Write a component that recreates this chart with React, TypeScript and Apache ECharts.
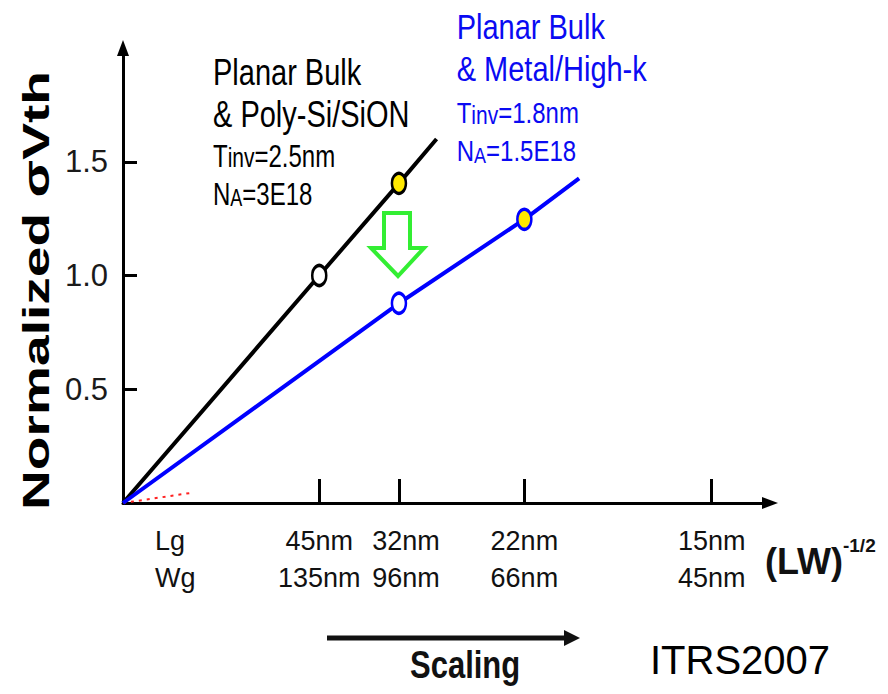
import React, { useEffect, useRef } from 'react';
import * as echarts from 'echarts';

const FONT = '"Liberation Sans", Arial, Helvetica, sans-serif';

// x axis: (LW)^-1/2 in um^-1, one entry per technology node
const NODE_LG = ['45nm', '32nm', '22nm', '15nm'];
const NODE_WG = ['135nm', '96nm', '66nm', '45nm'];
const NODE_X = [12.83, 18.04, 26.24, 38.49];
const HEADER_X = 3.43; // "Lg / Wg" row header
const Y_TICKS = [0.5, 1.0, 1.5];

// Planar Bulk & Poly-Si/SiON
const POLY_X = [0, 12.83, 18.04, 20.5];
const POLY_Y = [0, 1.0, 1.405, 1.6];
const POLY_MARK = ['none', 'open', 'filled', 'none'];
// Planar Bulk & Metal/High-k
const MHK_X = [0, 18.04, 26.24, 29.82];
const MHK_Y = [0, 0.878, 1.247, 1.427];
const MHK_MARK = ['none', 'open', 'filled', 'none'];
// red dotted reference near origin
const REF_X = [0, 4.5];
const REF_Y = [0, 0.045];

const BLACK = '#000000';
const BLUE = '#0000ff';
const BLUE_TEXT = '#0a0af2';
const YELLOW = '#ffe800';
const GREEN = '#33ee33';

function build(xs: number[], ys: number[], marks: string[], color: string) {
  return xs.map((x, i) => ({
    value: [x, ys[i]],
    symbol: marks[i] === 'none' ? 'none' : 'circle',
    itemStyle: {
      color: marks[i] === 'filled' ? YELLOW : '#ffffff',
      borderColor: color,
      borderWidth: 3,
    },
  }));
}

function textLine(x: number, y: number, text: string, size: number, color: string, sy: number, bold = false) {
  return {
    type: 'text',
    x,
    y,
    scaleY: sy,
    silent: true,
    style: {
      text,
      fill: color,
      fontSize: size,
      fontFamily: FONT,
      fontWeight: bold ? 'bold' : 'normal',
      align: 'left',
      verticalAlign: 'middle',
    },
  };
}

function richLine(x: number, y: number, big: string[], small: string, color: string, sy: number, smallSize: number) {
  return {
    type: 'text',
    x,
    y,
    scaleY: sy,
    silent: true,
    style: {
      text: `{a|${big[0]}}{b|${small}}{a|${big[1]}}`,
      fill: color,
      fontSize: 24,
      fontFamily: FONT,
      align: 'left',
      verticalAlign: 'middle',
      rich: {
        a: { fontSize: 24, fontFamily: FONT, fill: color, verticalAlign: 'bottom' },
        b: { fontSize: smallSize, fontFamily: FONT, fill: color, verticalAlign: 'bottom' },
      },
    },
  };
}

export default function App() {
  const ref = useRef<HTMLDivElement>(null);

  useEffect(() => {
    if (!ref.current) return;
    const chart = echarts.init(ref.current, undefined, { renderer: 'svg' });

    const option: any = {
      animation: false,
      backgroundColor: '#ffffff',
      grid: { left: 123, right: 118, top: 48, bottom: 191, outerBoundsMode: 'none' },
      xAxis: {
        type: 'value',
        min: 0,
        max: 42.3,
        splitLine: { show: false },
        name: '{a|(LW)}{b|-1/2}',
        nameLocation: 'end',
        nameGap: -5,
        nameTextStyle: {
          padding: [116, 0, 0, 0],
          rich: {
            a: { fontSize: 36, fontWeight: 'bold', fontFamily: FONT, color: '#111', lineHeight: 50 },
            b: { fontSize: 19, fontWeight: 'bold', fontFamily: FONT, color: '#111', verticalAlign: 'top' },
          },
        },
        axisLine: {
          show: true,
          symbol: ['none', 'triangle'],
          symbolSize: [12, 16],
          lineStyle: { color: BLACK, width: 3 },
        },
        axisTick: {
          show: true,
          inside: true,
          length: 24,
          customValues: NODE_X,
          lineStyle: { color: BLACK, width: 3 },
        },
        axisLabel: {
          show: true,
          customValues: [HEADER_X, ...NODE_X],
          margin: 19,
          fontSize: 27,
          lineHeight: 37,
          color: '#111',
          fontFamily: FONT,
          formatter: (v: number) => {
            if (Math.abs(v - HEADER_X) < 1e-6) return '{h|Lg}\n{h|Wg}';
            const i = NODE_X.findIndex((x) => Math.abs(x - v) < 1e-6);
            if (i === 1) return `{p|${NODE_LG[i]}}\n{p|${NODE_WG[i]}}`;
            return i >= 0 ? `${NODE_LG[i]}\n${NODE_WG[i]}` : '';
          },
          rich: {
            h: { width: 41, align: 'left', fontSize: 27, lineHeight: 37, color: '#111', fontFamily: FONT },
            p: { padding: [0, 0, 0, 14], fontSize: 27, lineHeight: 37, color: '#111', fontFamily: FONT },
          },
        },
      },
      yAxis: {
        type: 'value',
        min: 0,
        max: 2.0,
        interval: 0.5,
        splitLine: { show: false },
        axisLine: {
          show: true,
          symbol: ['none', 'triangle'],
          symbolSize: [12, 16],
          lineStyle: { color: BLACK, width: 3 },
        },
        axisTick: {
          show: true,
          inside: true,
          length: 14,
          customValues: Y_TICKS,
          lineStyle: { color: BLACK, width: 3 },
        },
        axisLabel: {
          show: true,
          customValues: Y_TICKS,
          margin: 15,
          fontSize: 31,
          color: '#1a1a1a',
          fontFamily: FONT,
          formatter: (v: number) => v.toFixed(1),
        },
      },
      series: [
        {
          type: 'line',
          name: 'ref',
          data: REF_X.map((x, i) => [x, REF_Y[i]]),
          showSymbol: false,
          symbol: 'none',
          lineStyle: { color: '#ff2020', width: 2, type: [3, 5] },
          silent: true,
          z: 1,
        },
        {
          type: 'line',
          name: 'Planar Bulk & Poly-Si/SiON',
          data: build(POLY_X, POLY_Y, POLY_MARK, BLACK),
          symbolSize: [14, 20],
          showSymbol: true,
          lineStyle: { color: BLACK, width: 4 },
          silent: true,
          z: 3,
        },
        {
          type: 'line',
          name: 'Planar Bulk & Metal/High-k',
          data: build(MHK_X, MHK_Y, MHK_MARK, BLUE),
          symbolSize: [14, 20],
          showSymbol: true,
          lineStyle: { color: BLUE, width: 4 },
          silent: true,
          z: 3,
        },
      ],
      graphic: [
        {
          type: 'text',
          x: 36,
          y: 290.5,
          rotation: Math.PI / 2,
          scaleX: 1.49,
          silent: true,
          style: {
            text: 'Normalized σVth',
            fill: BLACK,
            fontSize: 37,
            fontWeight: 'bold',
            fontFamily: FONT,
            align: 'center',
            verticalAlign: 'middle',
          },
        },
        textLine(213, 72, 'Planar Bulk', 29, BLACK, 1.28),
        textLine(213, 113.7, '& Poly-Si/SiON', 29, BLACK, 1.28),
        richLine(213, 156, ['T', '=2.5nm'], 'inv', BLACK, 1.28, 21),
        richLine(213, 194.2, ['N', '=3E18'], 'A', BLACK, 1.28, 18),
        textLine(456.7, 26.9, 'Planar Bulk', 29, BLUE_TEXT, 1.22),
        textLine(456.7, 69.3, '& Metal/High-k', 29, BLUE_TEXT, 1.22),
        richLine(456.7, 113, ['T', '=1.8nm'], 'inv', BLUE_TEXT, 1.22, 21),
        richLine(456.7, 151.5, ['N', '=1.5E18'], 'A', BLUE_TEXT, 1.22, 18),
        {
          type: 'polygon',
          silent: true,
          z: 10,
          shape: {
            points: [
              [384, 213],
              [410, 213],
              [410, 248],
              [424, 248],
              [398, 276],
              [371, 248],
              [384, 248],
            ],
          },
          style: { fill: 'none', stroke: GREEN, lineWidth: 4, lineJoin: 'miter' },
        },
        {
          type: 'line',
          silent: true,
          shape: { x1: 327, y1: 638, x2: 568, y2: 638 },
          style: { stroke: '#111', lineWidth: 5 },
        },
        {
          type: 'polygon',
          silent: true,
          shape: { points: [[564, 630], [580, 638], [564, 646]] },
          style: { fill: '#111' },
        },
        textLine(410, 664.4, 'Scaling', 31, '#111', 1.25, true),
        {
          type: 'text',
          x: 650,
          y: 660,
          silent: true,
          style: {
            text: 'ITRS2007',
            fill: BLACK,
            fontSize: 40,
            fontFamily: FONT,
            align: 'left',
            verticalAlign: 'middle',
          },
        },
      ],
    };

    chart.setOption(option);
    return () => chart.dispose();
  }, []);

  return (
    <div
      ref={ref}
      style={{ position: 'fixed', left: 0, top: 0, width: 888, height: 694, background: '#fff' }}
    />
  );
}
